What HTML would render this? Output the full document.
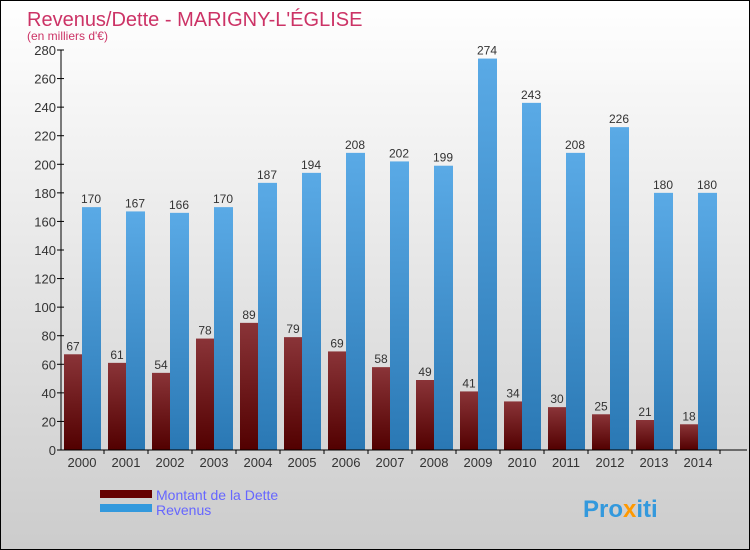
<!DOCTYPE html>
<html><head><meta charset="utf-8"><style>
body{margin:0}
#c{position:relative;width:748px;height:548px;border:1px solid #000;background:linear-gradient(#ffffff,#f0f0f0 30%,#cccccc);overflow:hidden;font-family:"Liberation Sans",sans-serif}
</style></head><body>
<div id="c">
<svg width="748" height="548" id="svg">
<defs>
<linearGradient id="gr" x1="0" y1="0" x2="0" y2="1"><stop offset="0" stop-color="#8a3438"/><stop offset="1" stop-color="#520000"/></linearGradient>
<linearGradient id="gb" x1="0" y1="0" x2="0" y2="1"><stop offset="0" stop-color="#5aaae6"/><stop offset="1" stop-color="#2a78b4"/></linearGradient>
</defs>
<text x="26" y="25" font-size="20" fill="#cc3366">Revenus/Dette - MARIGNY-L'ÉGLISE</text>
<text x="26" y="39" font-size="12" fill="#cc3366">(en milliers d'€)</text>
<g id="plot"></g>
<rect x="99" y="489" width="52" height="8" fill="#660000"/>
<rect x="99" y="503" width="52" height="8" fill="#3399dd"/>
<text x="155" y="499" font-size="14" fill="#6666ff">Montant de la Dette</text>
<text x="155" y="514" font-size="14" fill="#6666ff">Revenus</text>
<text x="582" y="516" font-size="24" font-weight="bold" fill="#3399dd">Pro<tspan fill="#ff9900">x</tspan>iti</text>
</svg>
</div>
<script>
const years=["2000","2001","2002","2003","2004","2005","2006","2007","2008","2009","2010","2011","2012","2013","2014"];
const dette=[67,61,54,78,89,79,69,58,49,41,34,30,25,21,18];
const revenus=[170,167,166,170,187,194,208,202,199,274,243,208,226,180,180];
const yTicks=[0,20,40,60,80,100,120,140,160,180,200,220,240,260,280];
const NS="http://www.w3.org/2000/svg";
const g=document.getElementById('plot');
const y0=449,yTop=49,yMax=280,xL=60,xR=746;
function yS(v){return y0-(v/yMax)*(y0-yTop);}
function xS(i){return 63+44*i;}
function mk(t,a){const e=document.createElementNS(NS,t);for(const k in a)e.setAttribute(k,a[k]);g.appendChild(e);return e;}
yTicks.forEach(v=>{
 const l=mk('line',{x1:xL-4,x2:xL+3,y1:yS(v),y2:yS(v),stroke:'#000'});
 
 
 const t=mk('text',{x:xL-5,y:yS(v)+5,'font-size':13,'text-anchor':'end',fill:'#333'});
 t.textContent=v;
 
 
});
years.forEach((yr,i)=>{
 const x=xS(i);
 const r=mk('rect',{x:x,y:yS(dette[i]),width:18,height:y0-yS(dette[i]),fill:'url(#gr)'});
 
 
 const b=mk('rect',{x:x+18,y:yS(revenus[i]),width:19,height:y0-yS(revenus[i]),fill:'url(#gb)'});
 
 
 const t1=mk('text',{x:x+9,y:yS(dette[i])-4,'font-size':12,'text-anchor':'middle',fill:'#333'});
 t1.textContent=dette[i];
 
 
 const t2=mk('text',{x:x+27,y:yS(revenus[i])-4,'font-size':12,'text-anchor':'middle',fill:'#333'});
 t2.textContent=revenus[i];
 
 
 const xt=mk('text',{x:x+18,y:y0+17,'font-size':13,'text-anchor':'middle',fill:'#333'});
 xt.textContent=yr;
 
 
 const tk=mk('line',{x1:x+18+22,x2:x+18+22,y1:y0,y2:y0+4,stroke:'#000'});
 
 
});
const ya=mk('line',{x1:xL,x2:xL,y1:yTop,y2:y0,stroke:'#000'});


const xa=mk('line',{x1:xL,x2:xR,y1:y0,y2:y0,stroke:'#000'});


</script>
</body></html>
